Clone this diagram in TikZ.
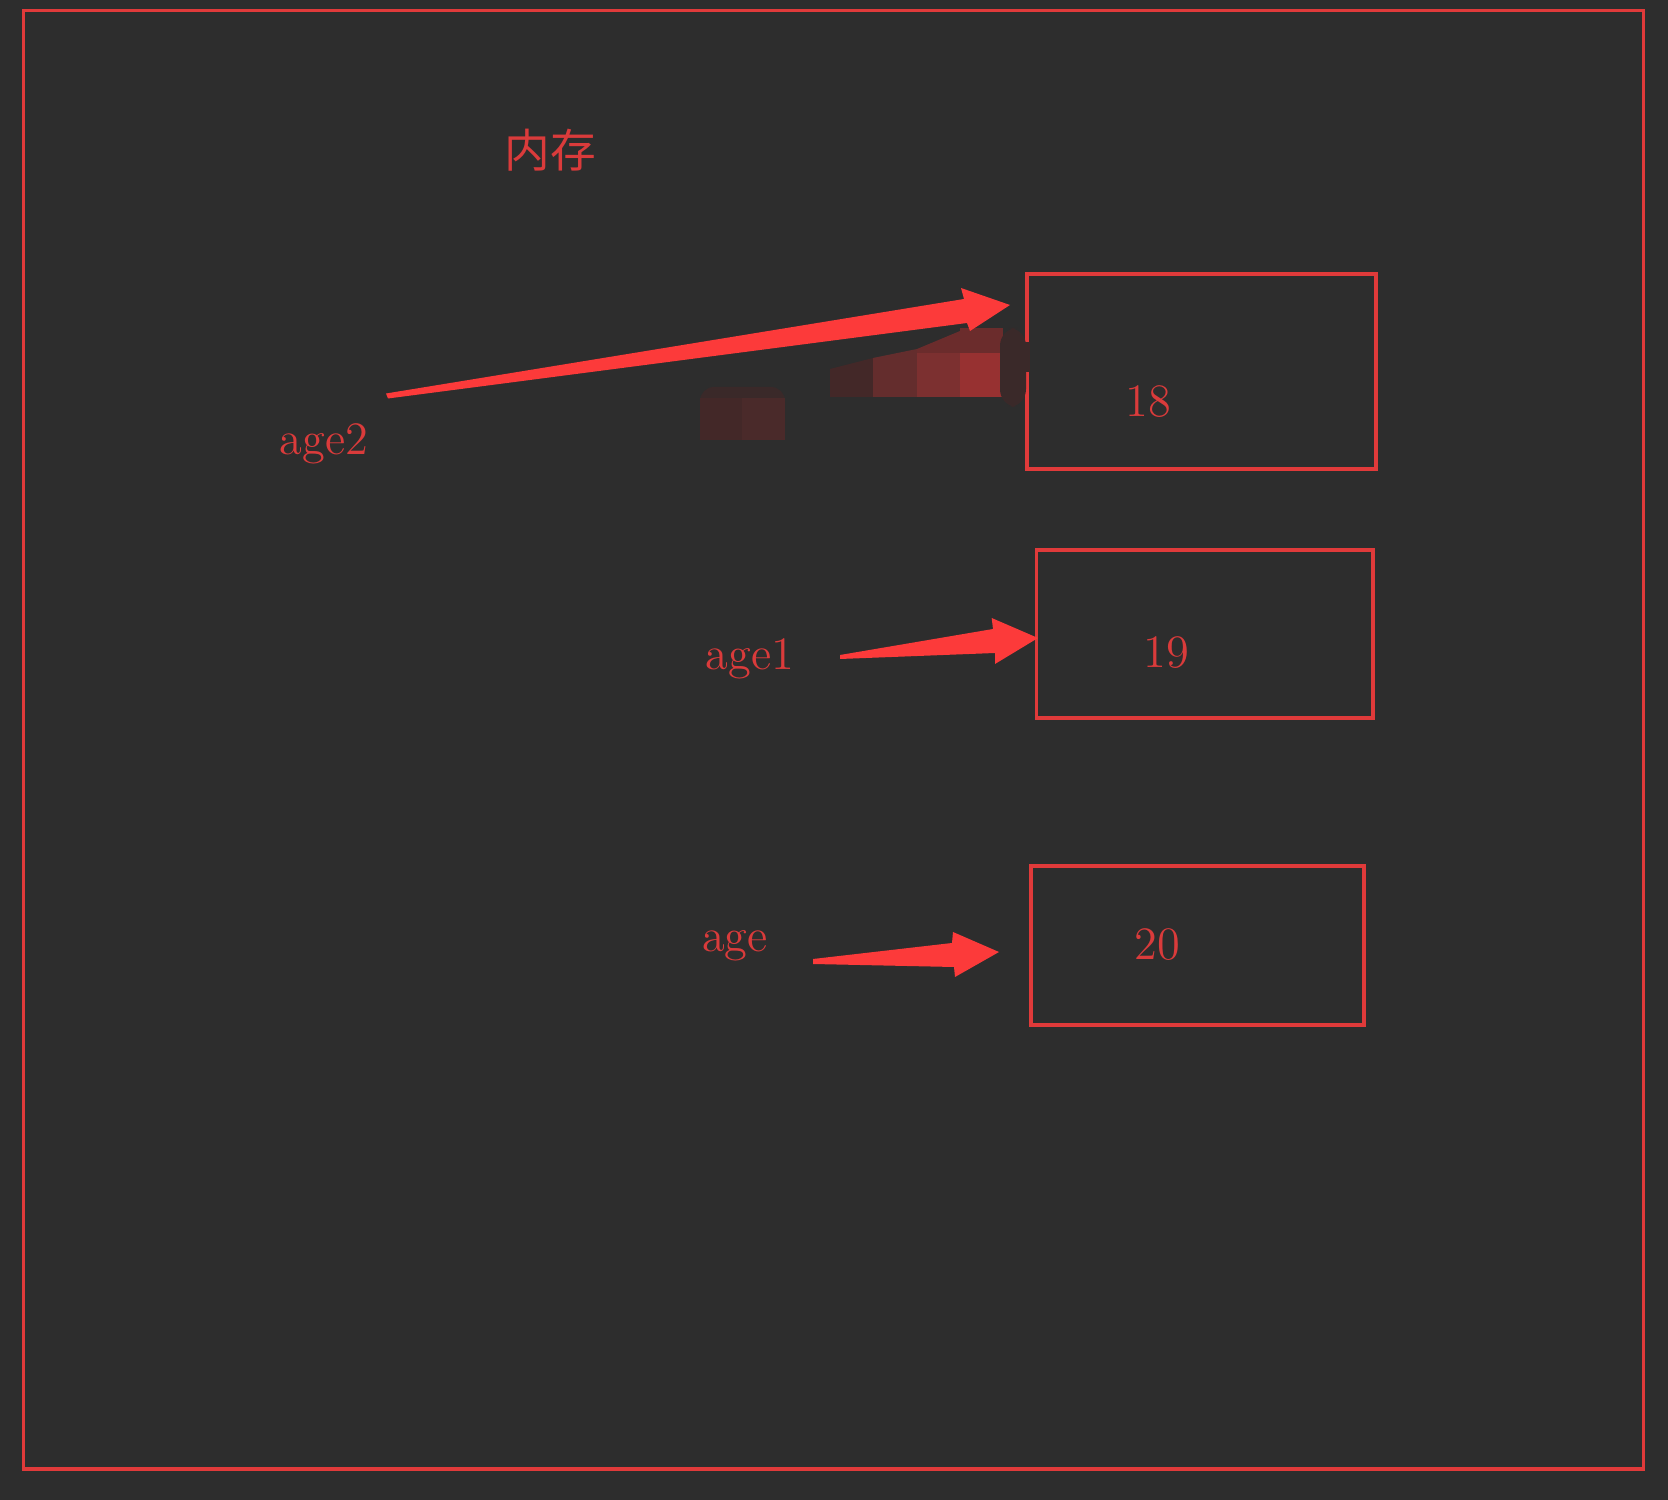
\documentclass[tikz,border=0pt]{standalone}
\usepackage{fontspec}
\newfontfamily\cjk{Noto Sans CJK SC}
\definecolor{bg}{HTML}{2D2D2D}
\definecolor{boxred}{HTML}{E03A3A}
\definecolor{txtred}{HTML}{DA3B3B}
\definecolor{arrred}{HTML}{FC3A3A}
\definecolor{mzA}{HTML}{3A2929}
\definecolor{mzB}{HTML}{432828}
\definecolor{mzC}{HTML}{4A2A2A}
\definecolor{mzD}{HTML}{642D2D}
\definecolor{mzE}{HTML}{6B2C2C}
\definecolor{mzF}{HTML}{7C3030}
\definecolor{mzG}{HTML}{973131}
\begin{document}
\begin{tikzpicture}[x=0.01cm,y=-0.01cm,
  boxst/.style={draw=boxred,line width=1pt,rectangle,inner sep=0pt},
  numst/.style={text=txtred,font=\fontsize{13.2}{16}\selectfont,anchor=base,inner sep=0pt},
  cjkst/.style={text=txtred,font=\cjk\fontsize{13}{16}\selectfont,anchor=base,inner sep=0pt},
  arrowst/.style={fill=arrred,draw=none}]
% background and frame
\fill[bg] (0,0) rectangle (1668,1500);
\useasboundingbox (0,0) rectangle (1668,1500);
\draw[boxred,line width=0.9pt] (23.5,10.5) rectangle (1643.5,1469);
% title
\node[cjkst] (mem) at (550,168) {内存};
% value boxes
\node[boxst,minimum width=3.49cm,minimum height=1.95cm] (b18) at (1201.5,371.5) {};
\node[boxst,minimum width=3.36cm,minimum height=1.677cm] (b19) at (1204.7,633.9) {};
\node[boxst,minimum width=3.33cm,minimum height=1.59cm] (b20) at (1197.5,945.5) {};
\node[numst] (n18) at (1148,417) {18};
\node[numst] (n19) at (1166,668) {19};
\node[numst] (n20) at (1157,960) {20};
% variable names
\node[numst] (v2) at (324,455) {age2};
\node[numst] (v1) at (750,670) {age1};
\node[numst] (v0) at (735,952) {age};
% mosaic remnants
\fill[mzA,rounded corners=4pt] (700,387) rectangle (785,440);
\fill[mzB] (700,398) rectangle (742,440);
\fill[mzC] (742,398) rectangle (785,440);
\fill[mzB] (830,369) -- (873,358) -- (873,397) -- (830,397) -- cycle;
\fill[mzD] (873,358) -- (917,349) -- (917,397) -- (873,397) -- cycle;
\fill[mzE] (917,349) -- (960,331) -- (960,353) -- (917,353) -- cycle;
\fill[mzF] (917,353) rectangle (960,397);
\fill[mzE] (960,328) rectangle (1003,353);
\fill[mzG] (960,353) rectangle (1003,397);
\fill[mzA,rounded corners=5pt] (1000,328) rectangle (1026,407);
\fill[mzA] (1020,342) rectangle (1030,372);
% arrows
\fill[arrowst] (386,393.5) -- (964,299) -- (961,288) -- (1010,305) -- (970,331) -- (967,323) -- (388,398.5) -- cycle;
\fill[arrowst] (840,655) -- (993,629) -- (991.7,618) -- (1038,638) -- (995,664) -- (995,653) -- (840,659) -- cycle;
\fill[arrowst] (813,959) -- (952,943) -- (953,932) -- (999,952) -- (955,977) -- (954,967) -- (813,964) -- cycle;
\end{tikzpicture}
\end{document}
